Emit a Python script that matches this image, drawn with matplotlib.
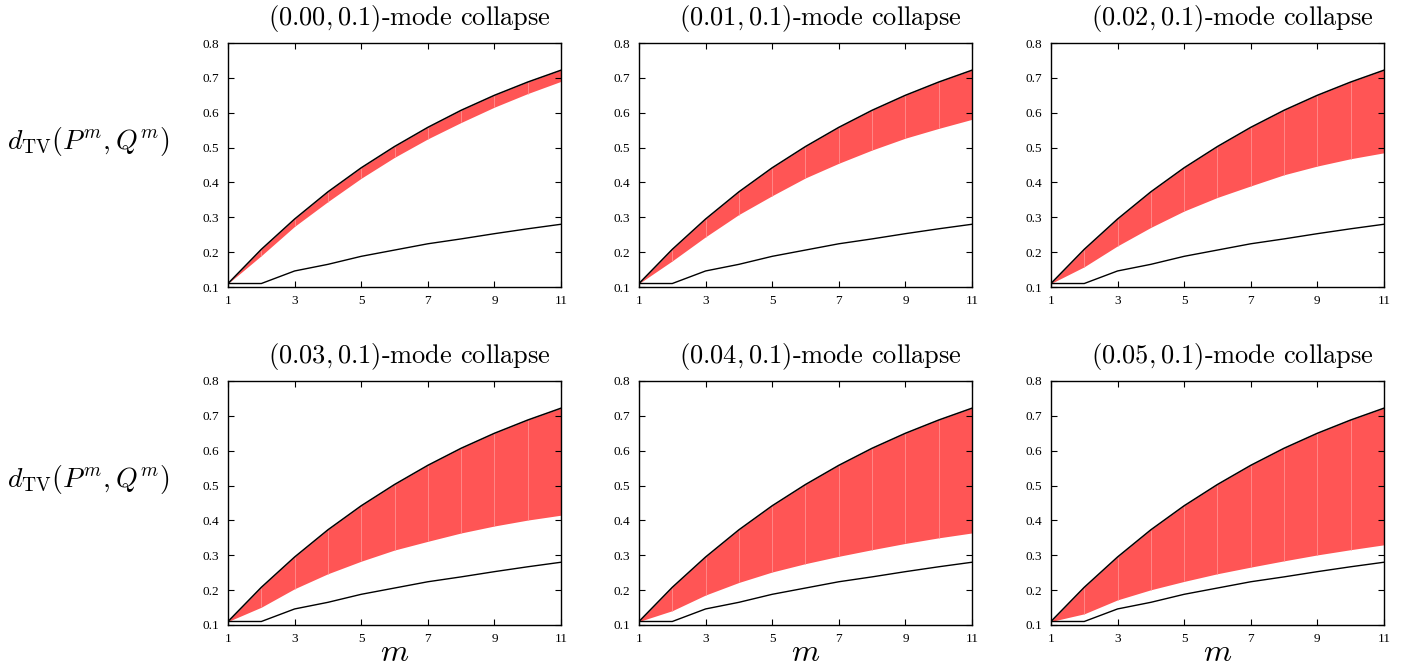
import numpy as np
import matplotlib
matplotlib.use("Agg")
import matplotlib.pyplot as plt

plt.rcParams['mathtext.fontset'] = 'cm'

# x values
m = np.arange(1, 12)

# upper black curve (same for all panels)
upper = [0.110, 0.208, 0.295, 0.373, 0.442, 0.503, 0.558, 0.607, 0.650, 0.688, 0.722]
# lower black curve (same for all panels)
baseline = [0.110, 0.110, 0.146, 0.165, 0.188, 0.206, 0.224, 0.238, 0.253, 0.267, 0.280]

# lower edge of the red band, one per panel
low_000 = [0.110, 0.190, 0.274, 0.345, 0.412, 0.472, 0.525, 0.572, 0.616, 0.655, 0.690]
low_001 = [0.110, 0.175, 0.244, 0.308, 0.362, 0.413, 0.455, 0.493, 0.527, 0.555, 0.581]
low_002 = [0.110, 0.158, 0.218, 0.271, 0.318, 0.357, 0.390, 0.422, 0.447, 0.468, 0.485]
low_003 = [0.110, 0.151, 0.204, 0.247, 0.283, 0.315, 0.340, 0.364, 0.384, 0.401, 0.415]
low_004 = [0.110, 0.141, 0.186, 0.222, 0.252, 0.276, 0.297, 0.316, 0.334, 0.350, 0.364]
low_005 = [0.110, 0.132, 0.172, 0.201, 0.225, 0.247, 0.266, 0.284, 0.301, 0.316, 0.330]

eps = ['0.00', '0.01', '0.02', '0.03', '0.04', '0.05']
lows = [low_000, low_001, low_002, low_003, low_004, low_005]

fig = plt.figure(figsize=(14.05, 6.69), dpi=100)

lefts = [0.1623, 0.4548, 0.7480]
bottoms = [0.571, 0.0658]
w, h = 0.2370, 0.3647

for i in range(6):
    row, col = divmod(i, 3)
    ax = fig.add_axes([lefts[col], bottoms[row], w, h])
    lo = np.array(lows[i])
    up = np.array(upper)
    ax.fill_between(m, lo, up, color='#ff5555', lw=0)
    # faint seams of the filled segments
    ax.vlines(m[1:-1], lo[1:-1], up[1:-1], colors='#ff8f8f', lw=0.6)
    ax.plot(m, up, color='black', lw=1.1)
    ax.plot(m, baseline, color='black', lw=1.0)

    ax.set_xlim(1, 11)
    ax.set_ylim(0.1, 0.8)
    ax.set_xticks([1, 3, 5, 7, 9, 11])
    ax.set_yticks(np.arange(0.1, 0.81, 0.1))
    ax.set_yticklabels(['%.1f' % v for v in np.arange(0.1, 0.81, 0.1)])
    ax.tick_params(direction='in', top=True, right=True, length=4, width=0.8,
                   labelsize=9.5)
    ax.tick_params(axis='y', pad=6.5)
    ax.tick_params(axis='x', pad=6)
    for lab in ax.get_xticklabels() + ax.get_yticklabels():
        lab.set_fontfamily('Liberation Serif')
    for s in ax.spines.values():
        s.set_linewidth(1.0)

    ax.set_title(r'$(%s, 0.1)$-mode collapse' % eps[i], fontsize=19,
                 fontfamily='cmr10', x=0.545, pad=13)
    if row == 1:
        ax.set_xlabel(r'$m$', fontsize=23, labelpad=-6)

for yc in [0.788, 0.283]:
    fig.text(0.0625, yc, r'$d_{\mathrm{TV}}(P^m, Q^m)$', fontsize=20,
             ha='center', va='center')

fig.savefig('out.png', dpi=100)
